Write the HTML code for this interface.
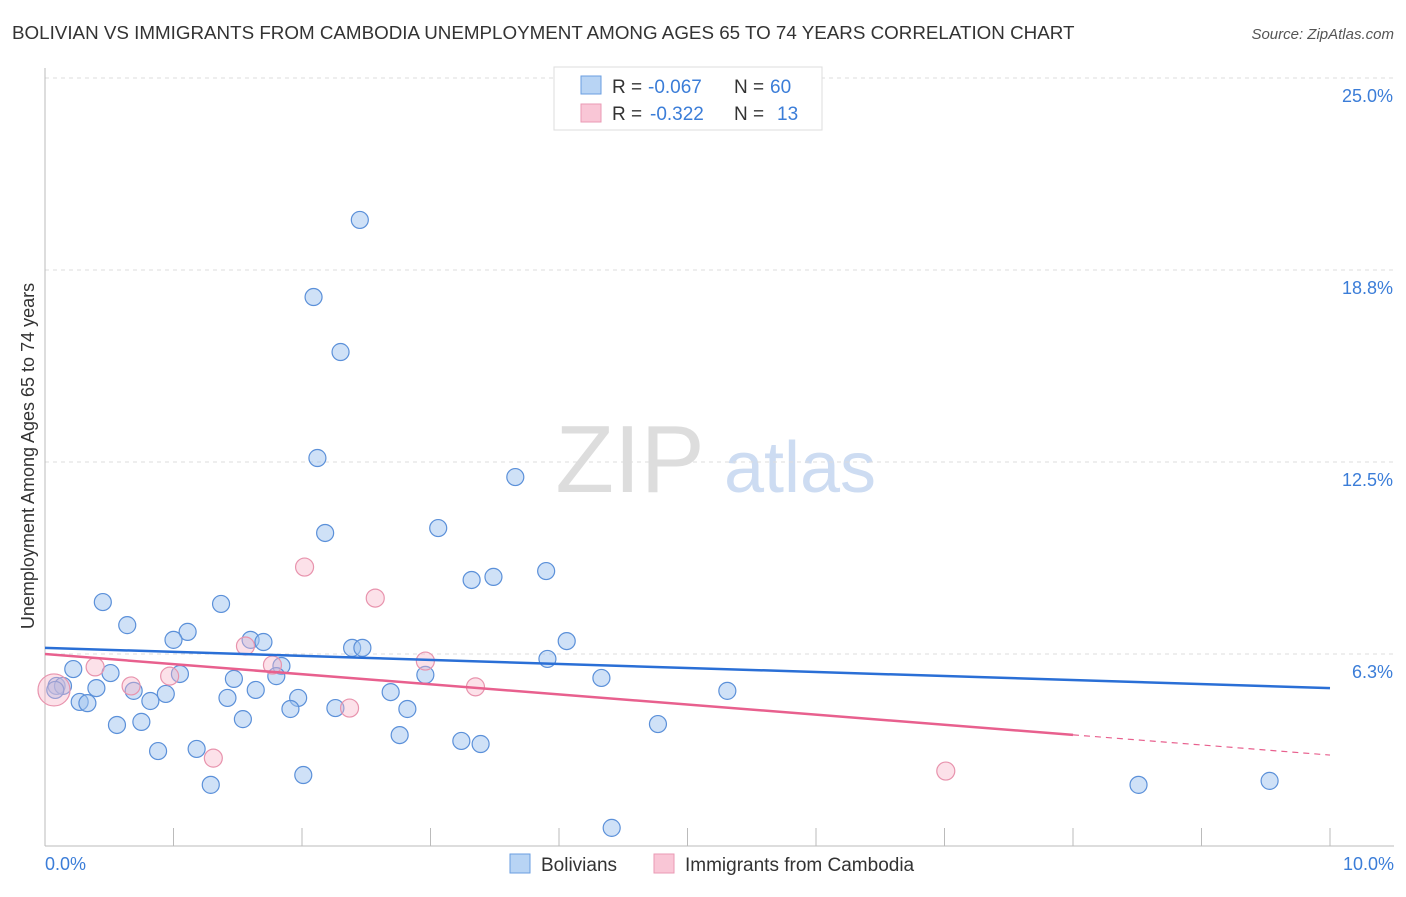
<!DOCTYPE html>
<html><head><meta charset="utf-8"><style>
body{margin:0;background:#fff;font-family:"Liberation Sans",sans-serif;}
svg text{font-family:"Liberation Sans",sans-serif;}
</style></head><body>
<svg width="1406" height="892" xmlns="http://www.w3.org/2000/svg" id="chart">
<text x="12" y="39" font-size="18.8" fill="#333">BOLIVIAN VS IMMIGRANTS FROM CAMBODIA UNEMPLOYMENT AMONG AGES 65 TO 74 YEARS CORRELATION CHART</text>
<text x="1394" y="39" font-size="15" fill="#555" font-style="italic" text-anchor="end">Source: ZipAtlas.com</text>
<g>
<text x="630" y="492" font-size="96" fill="#ddd" font-family="Liberation Serif" text-anchor="middle">ZIP</text>
<text x="800" y="492" font-size="72" fill="#cddcf2" text-anchor="middle">atlas</text>
</g>
<g id="grid"></g>
<g id="axes"></g>
<g id="marks"></g>
<text transform="translate(34,456) rotate(-90)" font-size="18" fill="#333" text-anchor="middle">Unemployment Among Ages 65 to 74 years</text>
<text x="45" y="870" font-size="18" fill="#3b7dd8">0.0%</text>
<text x="1394" y="870" font-size="18" fill="#3b7dd8" text-anchor="end">10.0%</text>
<g>
<rect x="554" y="67" width="268" height="63" fill="#fff" stroke="#ddd"/>
<rect x="581" y="76" width="20" height="18" fill="#b8d4f4" stroke="#6a9ee0"/>
<rect x="581" y="104" width="20" height="18" fill="#f9c6d6" stroke="#ea9ab4"/>
<text x="612" y="93" font-size="19" fill="#333">R =</text>
<text x="648" y="93" font-size="19" fill="#3b7dd8">-0.067</text>
<text x="734" y="93" font-size="19" fill="#333">N =</text>
<text x="770" y="93" font-size="19" fill="#3b7dd8">60</text>
<text x="612" y="120" font-size="19" fill="#333">R =</text>
<text x="650" y="120" font-size="19" fill="#3b7dd8">-0.322</text>
<text x="734" y="120" font-size="19" fill="#333">N =</text>
<text x="777" y="120" font-size="19" fill="#3b7dd8">13</text>
</g>
<g>
<rect x="510" y="854" width="20" height="19" fill="#b8d4f4" stroke="#6a9ee0"/>
<text x="541" y="871" font-size="19" fill="#333">Bolivians</text>
<rect x="654" y="854" width="20" height="19" fill="#f9c6d6" stroke="#ea9ab4"/>
<text x="685" y="871" font-size="19" fill="#333">Immigrants from Cambodia</text>
</g>
</svg>
<script>
const yTicks=[6.25,12.5,18.75,25];
const yTickLabels=["6.3%","12.5%","18.8%","25.0%"];
const bolX=[2.45,2.09,2.30,2.12,3.66,2.18,3.06,3.90,3.49,3.32,0.45,1.37,0.64,1.11,1.00,1.60,1.70,4.06,2.39,2.47,3.91,0.22,0.51,1.05,1.84,1.80,2.96,4.33,1.47,5.31,0.40,0.69,0.94,1.64,2.69,1.97,1.42,0.82,0.27,0.33,1.91,2.26,2.82,1.54,0.75,0.56,4.77,2.76,3.24,3.39,0.88,1.18,2.01,1.29,4.41,8.51,9.53,0.09,0.14,0.08];
const bolY=[20.38,17.87,16.08,12.63,12.01,10.19,10.35,8.95,8.76,8.66,7.94,7.88,7.19,6.97,6.71,6.71,6.64,6.67,6.45,6.45,6.09,5.76,5.63,5.60,5.86,5.53,5.57,5.47,5.44,5.05,5.14,5.05,4.95,5.08,5.01,4.82,4.82,4.72,4.69,4.65,4.46,4.49,4.46,4.13,4.04,3.94,3.97,3.61,3.42,3.32,3.09,3.16,2.31,1.99,0.59,1.99,2.12,5.21,5.21,5.08];
const camX=[0.07,0.39,0.67,0.97,1.56,1.77,2.02,2.57,2.96,3.35,2.37,1.31,7.01];
const camY=[5.08,5.83,5.21,5.53,6.51,5.89,9.08,8.07,6.02,5.18,4.49,2.86,2.44];
const camR=[16,9,9,9,9,9,9,9,9,9,9,9,9];
const bolTrend=[6.45,5.14];
const camTrend=[6.25,2.96];
const camSolidEnd=8.0;
const X0=45,X1=1330,Y0=846,PX=(X1-X0)/10,PY=(846-78)/25;
const sx=v=>X0+v*PX, sy=v=>Y0-v*PY;
const NS="http://www.w3.org/2000/svg";
function mk(t,a,p){const e=document.createElementNS(NS,t);for(const k in a)e.setAttribute(k,a[k]);document.getElementById(p).appendChild(e);return e;}
let g;
g=mk('line',{x1:X0,x2:1394,y1:sy(25),y2:sy(25),stroke:'#ddd','stroke-dasharray':'4,4'},'grid');


yTicks.forEach((t,i)=>{
 const l=mk('line',{x1:X0,x2:1394,y1:sy(t),y2:sy(t),stroke:'#ddd','stroke-dasharray':'4,4'},'grid');
 
 
 const tx=mk('text',{x:1393,y:sy(t)+24,'font-size':18,fill:'#3b7dd8','text-anchor':'end'},'grid');
 tx.textContent=yTickLabels[i];
 
 
});
g=mk('line',{x1:X0,x2:X0,y1:68,y2:Y0,stroke:'#bbb'},'axes');


g=mk('line',{x1:X0,x2:1394,y1:Y0,y2:Y0,stroke:'#bbb'},'axes');


for(let i=1;i<=10;i++){
 const t=mk('line',{x1:sx(i),x2:sx(i),y1:828,y2:Y0,stroke:'#bbb'},'axes');
 
 
}
bolX.forEach((x,i)=>{
 const c=mk('circle',{cx:sx(x),cy:sy(bolY[i]),r:8.5,fill:'rgba(160,196,240,0.5)',stroke:'#5b90d9','stroke-width':1.2},'marks');
 
 
});
camX.forEach((x,i)=>{
 const c=mk('circle',{cx:sx(x),cy:sy(camY[i]),r:camR[i],fill:'rgba(248,180,200,0.4)',stroke:'#e893ad','stroke-width':1.2},'marks');
 
 
});
g=mk('line',{x1:sx(0),y1:sy(bolTrend[0]),x2:sx(10),y2:sy(bolTrend[1]),stroke:'#2a6fd6','stroke-width':2.5},'marks');


const cy=v=>camTrend[0]+(camTrend[1]-camTrend[0])*v/10;
g=mk('line',{x1:sx(0),y1:sy(cy(0)),x2:sx(camSolidEnd),y2:sy(cy(camSolidEnd)),stroke:'#e8608e','stroke-width':2.5},'marks');


g=mk('line',{x1:sx(camSolidEnd),y1:sy(cy(camSolidEnd)),x2:sx(10),y2:sy(cy(10)),stroke:'#e8608e','stroke-width':1.2,'stroke-dasharray':'6,5'},'marks');


</script>
</body></html>
